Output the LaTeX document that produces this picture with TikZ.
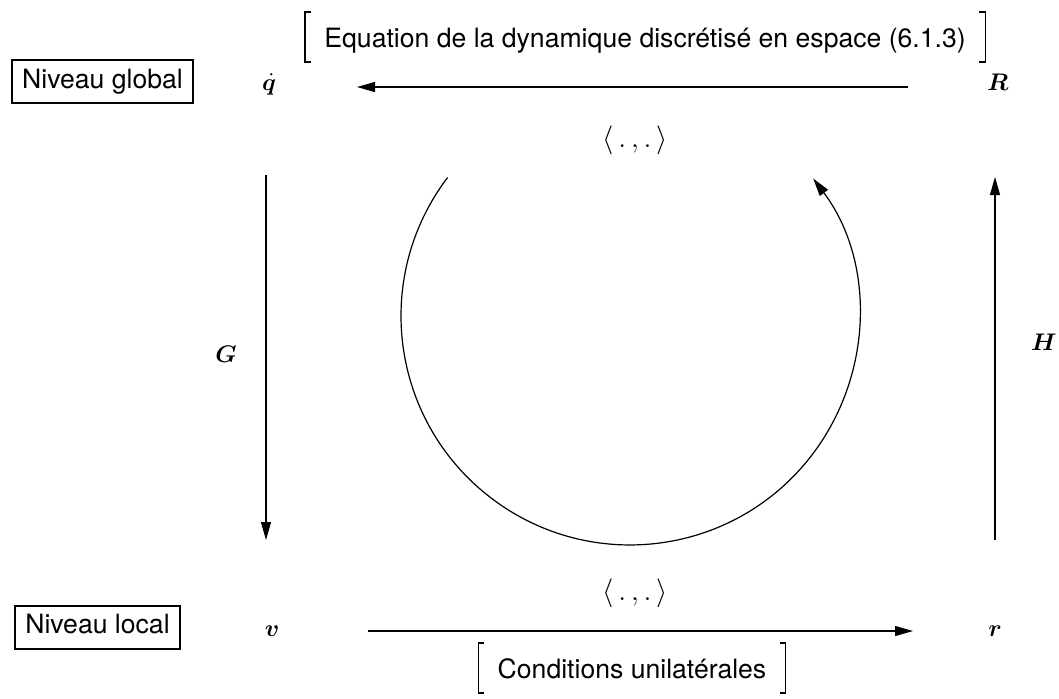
\documentclass[tikz,border=0pt]{standalone}
\usepackage{fontspec}
\setmainfont{TeX Gyre Heros}
\usepackage{bm}
\usetikzlibrary{arrows.meta}
\begin{document}
\begin{tikzpicture}[x=0.5pt,y=-0.5pt,
  lbl/.style={font=\fontsize{13.3}{16}\selectfont, inner sep=0pt},
  lvl/.style={draw, line width=1pt, font=\fontsize{13.3}{16}\selectfont, inner xsep=5pt, inner ysep=4.5pt, text height=9.6pt, text depth=2.9pt},
  var/.style={inner sep=0pt, anchor=base, font=\fontsize{13}{15}\selectfont},
  arr/.style={line width=0.6pt, -{Triangle[length=9pt,width=5pt]}},
  brk/.style={line width=0.6pt}]
\useasboundingbox (0,0) rectangle (1059,698);
% level boxes
\node[lvl] (ng) at (102.5,81.5) {Niveau global};
\node[lvl] (nl) at (97.5,627) {Niveau local};
% variables
\node[var] (qd) at (269,90) {$\bm{\dot q}$};
\node[var] (R) at (998,90) {$\bm{R}$};
\node[var] (v) at (272,636) {$\bm{v}$};
\node[var] (r) at (995,636) {$\bm{r}$};
\node[var] (G) at (226,362) {$\bm{G}$};
\node[var] (H) at (1044,350) {$\bm{H}$};
% inner products
\node[lbl] (ipt) at (635,140) {$\langle\,.\,,.\,\rangle$};
\node[lbl] (ipb) at (635,593) {$\langle\,.\,,.\,\rangle$};
% bracketed labels
\node[lbl, anchor=base] (eq) at (645,47) {Equation de la dynamique discrétisé en espace (6.1.3)};
\draw[brk] ([shift={(-6.5pt,17.5pt)}]eq.base west) -- ++(-3pt,0) -- ++(0,-25pt) -- ++(3pt,0);
\draw[brk] ([shift={(6.5pt,17.5pt)}]eq.base east) -- ++(3pt,0) -- ++(0,-25pt) -- ++(-3pt,0);
\node[lbl, anchor=base] (cu) at (632,678) {Conditions unilatérales};
\draw[brk] ([shift={(-6.5pt,17.5pt)}]cu.base west) -- ++(-3pt,0) -- ++(0,-25pt) -- ++(3pt,0);
\draw[brk] ([shift={(6.5pt,17.5pt)}]cu.base east) -- ++(3pt,0) -- ++(0,-25pt) -- ++(-3pt,0);
% arrow end points
\coordinate (tA) at (908,87);  \coordinate (tB) at (357,87);
\coordinate (bA) at (368,631); \coordinate (bB) at (913,631);
\coordinate (gA) at (266,175); \coordinate (gB) at (266,540);
\coordinate (hA) at (995,540); \coordinate (hB) at (995,177);
\coordinate (cA) at (447.6,177.5);
% connectors
\draw[arr] (tA) -- (tB);
\draw[arr] (bA) -- (bB);
\draw[arr] (gA) -- (gB);
\draw[arr] (hA) -- (hB);
\draw[arr] (cA) arc[start angle=217.2, end angle=-36.9, radius=229];
\end{tikzpicture}
\end{document}
